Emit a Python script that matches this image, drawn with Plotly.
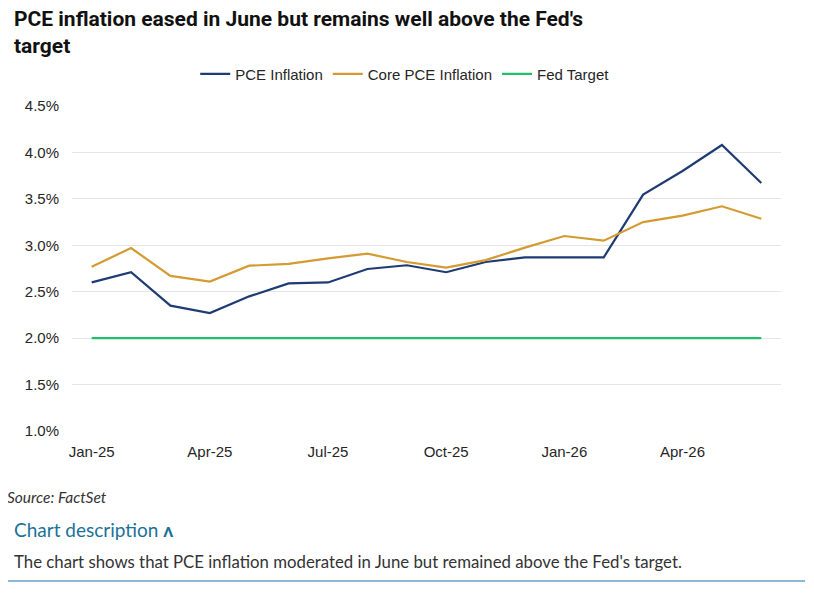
import plotly.graph_objects as go

# Monthly values (percent, year over year)
months = ["Jan-25", "Feb-25", "Mar-25", "Apr-25", "May-25", "Jun-25",
          "Jul-25", "Aug-25", "Sep-25", "Oct-25", "Nov-25", "Dec-25",
          "Jan-26", "Feb-26", "Mar-26", "Apr-26", "May-26", "Jun-26"]
pce = [2.60, 2.71, 2.35, 2.27, 2.45, 2.59, 2.60, 2.745, 2.785, 2.71, 2.82, 2.87,
       2.87, 2.87, 3.545, 3.80, 4.08, 3.67]
core_pce = [2.77, 2.97, 2.67, 2.61, 2.78, 2.80, 2.86, 2.91, 2.82, 2.76, 2.84, 2.975,
            3.10, 3.05, 3.25, 3.32, 3.42, 3.285]
fed_target = [2.0] * len(months)
tick_months = ["Jan-25", "Apr-25", "Jul-25", "Oct-25", "Jan-26", "Apr-26"]

NAVY = "#1f3b73"
GOLD = "#d39b32"
GREEN = "#22c06a"
TICK_FONT = dict(family="Liberation Sans, Arial, sans-serif", size=15, color="#262626")


def line_trace(y, name, color):
    return go.Scatter(x=months, y=y, name=name, mode="lines",
                      line=dict(color=color, width=2.2), hoverinfo="x+y")


fig = go.Figure([
    line_trace(pce, "PCE Inflation", NAVY),
    line_trace(core_pce, "Core PCE Inflation", GOLD),
    line_trace(fed_target, "Fed Target", GREEN),
])

# the page adds an 8px body margin, so margins are pulled in by 8px
fig.update_layout(
    width=814, height=601,
    margin=dict(l=64, r=41, t=98, b=178),
    paper_bgcolor="white", plot_bgcolor="white",
    legend=dict(
        orientation="h", x=0.47, y=1.098, xanchor="center", yanchor="middle",
        font=dict(family="Liberation Sans, Arial, sans-serif", size=15, color="#262626"),
        itemwidth=30, tracegroupgap=0,
    ),
    xaxis=dict(
        type="category", categoryorder="array", categoryarray=months,
        range=[-0.5, len(months) - 0.5],
        tickvals=tick_months, ticktext=tick_months,
        showgrid=False, showline=False, zeroline=False, ticks="",
        tickfont=TICK_FONT, ticklabelstandoff=10,
    ),
    yaxis=dict(
        range=[1.0, 4.5], dtick=0.5, tickformat=".1f", ticksuffix="%",
        showgrid=True, gridcolor="#e4e4e4", gridwidth=1,
        zeroline=False, showline=False, ticks="",
        tickfont=TICK_FONT, ticklabelstandoff=12,
    ),
    showlegend=True,
)

# title as an annotation so both lines stay on the page
fig.add_annotation(
    text="<b>PCE inflation eased in June but remains well above the Fed's<br>target</b>",
    xref="paper", yref="paper", x=-0.0846, y=1.226,
    xanchor="left", yanchor="middle", align="left", showarrow=False,
    font=dict(family="Roboto, sans-serif", size=21, color="#111111"),
)
fig.add_annotation(
    text="<i>Source: FactSet</i>", xref="paper", yref="paper",
    x=-0.0945, y=-0.203, xanchor="left", yanchor="middle", showarrow=False,
    font=dict(family="Lato, sans-serif", size=15.5, color="#333333"),
)
fig.add_annotation(
    text="Chart description <b>ʌ</b>", xref="paper", yref="paper",
    x=-0.0846, y=-0.3046, xanchor="left", yanchor="middle", showarrow=False,
    font=dict(family="Lato, sans-serif", size=19, color="#1b7197"),
)
fig.add_annotation(
    text="The chart shows that PCE inflation moderated in June but remained above the Fed's target.",
    xref="paper", yref="paper",
    x=-0.0846, y=-0.403, xanchor="left", yanchor="middle", showarrow=False,
    font=dict(family="Lato, sans-serif", size=16.8, color="#333333"),
)
fig.add_shape(
    type="line", xref="paper", yref="paper",
    x0=-0.0945, x1=1.034, y0=-0.4615, y1=-0.4615,
    line=dict(color="#8cbad4", width=2),
)

fig.write_html("out.html")
